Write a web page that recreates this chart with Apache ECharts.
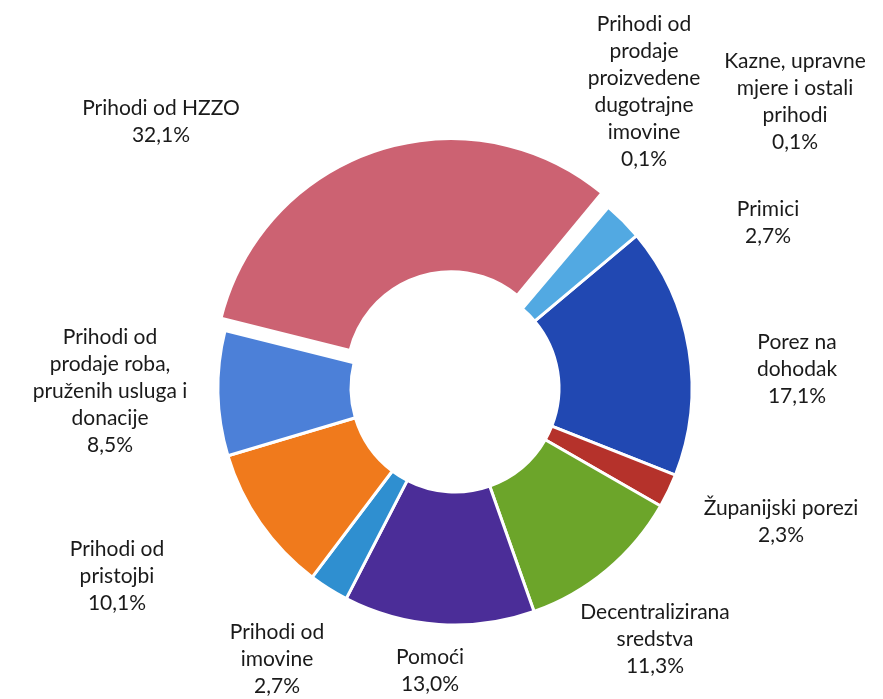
<!DOCTYPE html>
<html>
<head>
<meta charset="utf-8">
<script src="https://cdn.jsdelivr.net/npm/echarts@6/dist/echarts.min.js"></script>
<style>
html,body{margin:0;padding:0;background:#fff;}
#chart{width:883px;height:699px;}
</style>
</head>
<body>
<div id="chart"></div>
<script>
// Categories (with the line breaks used in the reference labels)
var categories = [
  'Porez na\ndohodak',
  'Županijski porezi',
  'Decentralizirana\nsredstva',
  'Pomoći',
  'Prihodi od\nimovine',
  'Prihodi od\npristojbi',
  'Prihodi od\nprodaje roba,\npruženih usluga i\ndonacije',
  'Prihodi od HZZO',
  'Prihodi od\nprodaje\nproizvedene\ndugotrajne\nimovine',
  'Kazne, upravne\nmjere i ostali\nprihodi',
  'Primici'
];
// Shares in percent
var values = [17.1, 2.3, 11.3, 13.0, 2.7, 10.1, 8.5, 32.1, 0.1, 0.1, 2.7];
// Slice colours
var colors = ['#2148b2', '#b5322b', '#6ca52a', '#4b2d98', '#2f8fd0', '#f07a1c', '#4c80d8', '#cc6272', '#8a6bb8', '#4bacc6', '#52a9e2'];
// Which slice is pulled out
var explodedIndex = 7;
// Label anchor positions (label centres)
var labelPos = [
  [797, 369], [781, 522], [655, 639], [430, 671], [277, 659],
  [117, 576], [110, 391], [161, 122], [644, 92], [795, 102], [768, 223]
];

var CX = 455, CY = 388, R_IN = 104, R_OUT = 237;

function fmt(v) { return v.toFixed(1).replace('.', ',') + '%'; }

var mainData = categories.map(function (c, i) {
  var hidden = i === explodedIndex;
  return {
    name: c,
    value: values[i],
    itemStyle: hidden
      ? { color: 'rgba(0,0,0,0)', borderWidth: 0 }
      : { color: colors[i] }
  };
});
var explodedData = categories.map(function (c, i) {
  var on = i === explodedIndex;
  return {
    name: c,
    value: values[i],
    selected: on,
    itemStyle: { color: on ? colors[i] : 'rgba(0,0,0,0)', borderWidth: on ? 3 : 0 },
    select: { itemStyle: { color: on ? colors[i] : 'rgba(0,0,0,0)', borderColor: '#fff', borderWidth: on ? 3 : 0 } }
  };
});

var chart = echarts.init(document.getElementById('chart'), null, { renderer: 'canvas' });
chart.setOption({
  animation: false,
  backgroundColor: '#ffffff',
  series: [
    {
      type: 'pie',
      center: [CX, CY],
      radius: [R_IN, R_OUT],
      startAngle: 40,
      clockwise: true,
      avoidLabelOverlap: false,
      selectedMode: false,
      silent: true,
      itemStyle: { borderColor: '#ffffff', borderWidth: 3 },
      label: {
        show: true,
        position: 'outside',
        formatter: function (p) { return p.name + '\n' + fmt(p.value); },
        fontFamily: 'Lato, "Open Sans", sans-serif',
        fontSize: 21,
        lineHeight: 27,
        color: '#1a1a1a',
        align: 'center'
      },
      labelLine: { show: false },
      labelLayout: function (p) {
        var pos = labelPos[p.dataIndex];
        return { x: pos[0], y: pos[1], align: 'center', verticalAlign: 'middle', hideOverlap: false };
      },
      data: mainData
    },
    {
      type: 'pie',
      center: [CX, CY],
      radius: [R_IN, R_OUT],
      startAngle: 40,
      clockwise: true,
      selectedMode: 'single',
      selectedOffset: 13,
      silent: true,
      itemStyle: { borderColor: '#ffffff' },
      label: { show: false },
      labelLine: { show: false },
      emphasis: { disabled: true },
      data: explodedData
    }
  ]
});
</script>
</body>
</html>
